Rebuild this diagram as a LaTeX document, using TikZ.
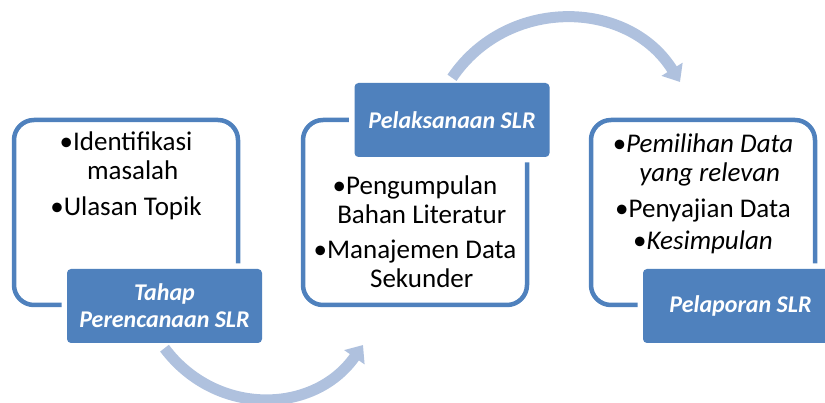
\documentclass[tikz,border=0pt]{standalone}
\usepackage{fontspec}
\setmainfont{Carlito}
\usetikzlibrary{arrows.meta}
\definecolor{slrblue}{HTML}{4F81BD}
\definecolor{slrarrow}{HTML}{AFC1DE}
\tikzset{
    stagebox/.style={draw=slrblue, line width=4.5pt, rounded corners=20pt, minimum width=224pt, minimum height=185pt},
    stagetitle/.style={fill=slrblue, rounded corners=4pt, minimum width=195pt, minimum height=74pt, text=white, align=center,
        font=\fontsize{24}{27}\selectfont\bfseries\itshape, preaction={draw=white, line width=11pt}},
    stageitems/.style={inner sep=0pt, anchor=north, align=center, font=\fontsize{27}{29}\selectfont},
    cyclearrow/.style={draw=slrarrow, line width=11pt, -{Triangle[width=24pt,length=15pt]}}
}
\begin{document}
\begin{tikzpicture}[x=1pt,y=1pt]
        \useasboundingbox (0,0) rectangle (825,403);
        \def \Boxes{ 1/126, 2/415, 3/703}
        \def \Titles{ 1/164.5/97/{Tahap\\Perencanaan SLR}, 2/452/283/{Pelaksanaan SLR}, 3/740.5/97/{Pelaporan SLR}}
        \foreach \id / \x in \Boxes{
            \node[stagebox] (b\id) at (\x, 190.5) {};
        }
        \foreach \id / \x / \y / \txt in \Titles{
            \node[stagetitle] (t\id) at (\x, \y) {\txt};
        }
        % isi tiap tahap
        \node[stageitems] (i1) at (126, 271) {•Identifikasi\\\hphantom{•}masalah\\[7pt]•Ulasan Topik};
        \node[stageitems] (i2) at (415, 227) {•Pengumpulan\\\hphantom{•}Bahan Literatur\\[6pt]•Manajemen Data\\\hphantom{•}Sekunder};
        \node[stageitems] (i3) at (703, 269) {•\textit{Pemilihan Data}\\\hphantom{•}\textit{yang relevan}\\[7pt]•Penyajian Data\\[3pt]•\textit{Kesimpulan}};
        % panah siklus
        \coordinate (e1) at (363, 58);
        \coordinate (e2) at (680, 321);
        \path[cyclearrow] ([yshift=-5pt]t1.south) to[bend right=54, looseness=1.1] (e1);
        \path[cyclearrow] ([yshift=5pt]t2.north) to[bend left=57, looseness=1.1] (e2);
    \end{tikzpicture}
\end{document}
